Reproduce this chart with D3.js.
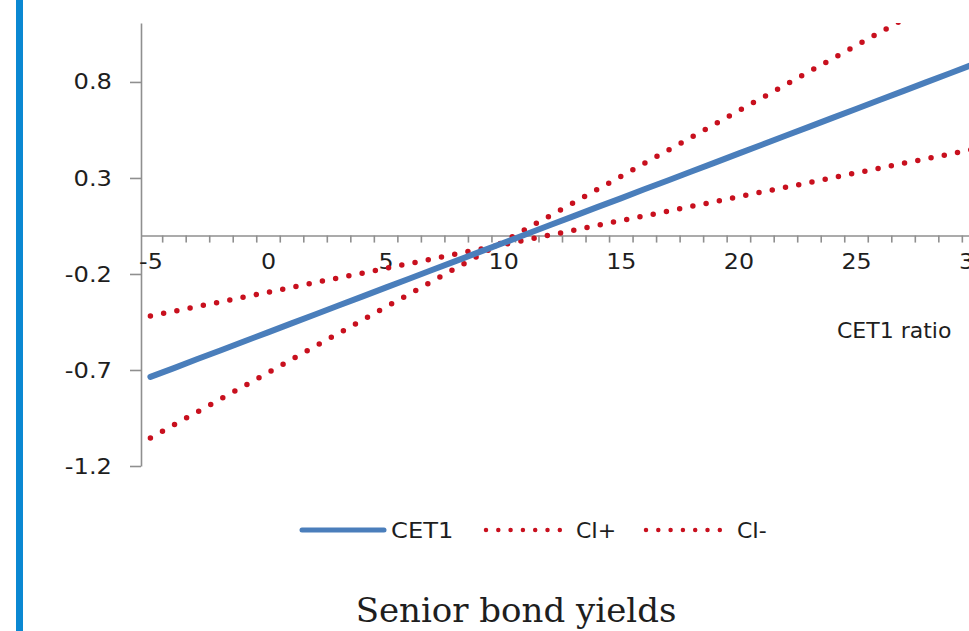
<!DOCTYPE html>
<html>
<head>
<meta charset="utf-8">
<script src="https://cdn.jsdelivr.net/npm/d3@7"></script>
<style>
  html, body { margin: 0; padding: 0; background: #fff; overflow: hidden; }
  svg { display: block; }
  text { font-family: "DejaVu Sans", Verdana, sans-serif; fill: #1e1e1e; }
</style>
</head>
<body>
<svg id="chart" width="969" height="631"></svg>
<script>
// ---- data ----
const categories = [-5,-4,-3,-2,-1,0,1,2,3,4,5,6,7,8,9,10,11,12,13,14,15,16,17,18,19,20,21,22,23,24,25,26,27,28,29,30,31,32];
const cet1 = [-0.736,-0.690,-0.643,-0.597,-0.550,-0.504,-0.457,-0.411,-0.364,-0.318,-0.271,-0.225,-0.178,-0.132,-0.085,-0.039,0.008,0.055,0.101,0.148,0.194,0.241,0.287,0.334,0.380,0.427,0.473,0.520,0.566,0.613,0.659,0.706,0.752,0.799,0.845,0.892,0.938,0.985];
const ciPlus = [-1.054,-0.986,-0.918,-0.850,-0.782,-0.714,-0.645,-0.577,-0.509,-0.441,-0.373,-0.305,-0.237,-0.169,-0.101,-0.033,0.036,0.104,0.172,0.240,0.308,0.376,0.444,0.512,0.580,0.649,0.717,0.785,0.853,0.921,0.989,1.057,1.125,1.193,1.261,1.330,1.398,1.466];
const ciMinus = [-0.419,-0.394,-0.369,-0.345,-0.320,-0.295,-0.270,-0.245,-0.220,-0.196,-0.171,-0.146,-0.121,-0.096,-0.071,-0.047,-0.022,0.003,0.028,0.053,0.078,0.102,0.127,0.152,0.177,0.202,0.227,0.251,0.276,0.301,0.326,0.351,0.376,0.400,0.425,0.450,0.475,0.500];
const yTicks = [-1.2, -0.7, -0.2, 0.3, 0.8];
const xTickLabels = [-5, 0, 5, 10, 15, 20, 25, 30];
const seriesNames = ["CET1", "CI+", "CI-"];
const xAxisTitle = "CET1 ratio";
const chartTitle = "Senior bond yields";

// ---- layout ----
const svg = d3.select("#chart");
const plot = { left: 141, top: 23, bottom: 466 };
const x = d3.scaleLinear().domain([-5.4, 32.6]).range([plot.left, plot.left + 38 * 23.52]);
const y = d3.scaleLinear().domain([-1.2, 1.107]).range([plot.bottom, plot.top]);
const axisColor = "#8f8f8f";
const FS = "22px";
const hy = s => s.replace("\u2212", "-");

function stretch(sel, k) {
  sel.each(function () {
    const w = this.getComputedTextLength();
    d3.select(this).attr("textLength", w * k).attr("lengthAdjust", "spacingAndGlyphs");
  });
}

// left accent bar
svg.append("rect").attr("x", 16).attr("y", 0).attr("width", 7).attr("height", 631).attr("fill", "#0a88d2");

// clip for plot area
svg.append("defs").append("clipPath").attr("id", "plotclip")
  .append("rect").attr("x", plot.left).attr("y", plot.top)
  .attr("width", 969 - plot.left + 60).attr("height", plot.bottom - plot.top);

// y axis
const yAxis = svg.append("g").attr("transform", `translate(${plot.left},0)`)
  .call(d3.axisLeft(y).tickValues(yTicks).tickFormat(d => hy(d3.format(".1f")(d))).tickSizeInner(11).tickSizeOuter(0).tickPadding(18));
yAxis.selectAll("path, line").attr("stroke", axisColor).attr("stroke-width", 1.6);
yAxis.selectAll("text").style("font-size", FS).style("font-family", "DejaVu Sans, Verdana, sans-serif").attr("fill", "#1e1e1e");
stretch(yAxis.selectAll("text"), 1.1);

// x axis (minor ticks between categories)
const y0 = y(0);
const xAxis = svg.append("g").attr("transform", `translate(0,${y0})`)
  .call(d3.axisBottom(x).tickValues(d3.range(-4.5, 33, 1)).tickFormat("").tickSizeInner(7).tickSizeOuter(0));
xAxis.selectAll("path, line").attr("stroke", axisColor).attr("stroke-width", 1.6);

// x labels
const xLab = svg.append("g").attr("transform", `translate(0,${y0})`)
  .call(d3.axisBottom(x).tickValues(xTickLabels).tickFormat(d => hy(String(d))).tickSize(0).tickPadding(33));
xLab.select(".domain").remove();
xLab.selectAll("text").style("font-size", FS).style("font-family", "DejaVu Sans, Verdana, sans-serif").attr("fill", "#1e1e1e").attr("dy", "0");
stretch(xLab.selectAll("text"), 1.08);

// x axis title
svg.append("text").attr("x", 837).attr("y", 338).style("font-size", FS).text(xAxisTitle);

// series
const gLines = svg.append("g").attr("clip-path", "url(#plotclip)");
const line = (vals) => d3.line().x((d, i) => x(categories[i])).y(d => y(d))(vals);

const redColor = "#c8101e";
gLines.append("path").attr("d", line(ciPlus)).attr("fill", "none")
  .attr("stroke", redColor).attr("stroke-width", 5.5).attr("stroke-linecap", "round").attr("stroke-dasharray", "0 13.8");
gLines.append("path").attr("d", line(ciMinus)).attr("fill", "none")
  .attr("stroke", redColor).attr("stroke-width", 5.5).attr("stroke-linecap", "round").attr("stroke-dasharray", "0 13.5");
gLines.append("path").attr("d", line(cet1)).attr("fill", "none")
  .attr("stroke", "#4a7ebb").attr("stroke-width", 6).attr("stroke-linecap", "round").attr("stroke-linejoin", "round");

// legend
const legY = 530;
const leg = svg.append("g");
leg.append("line").attr("x1", 302).attr("x2", 384).attr("y1", legY).attr("y2", legY)
  .attr("stroke", "#4a7ebb").attr("stroke-width", 5).attr("stroke-linecap", "round");
leg.append("text").attr("x", 391).attr("y", legY + 8).style("font-size", FS).text(seriesNames[0]);
[[486, 576, seriesNames[1]], [646, 737, seriesNames[2]]].forEach(([sx, tx, name]) => {
  leg.append("line").attr("x1", sx).attr("x2", sx + 74).attr("y1", legY).attr("y2", legY)
    .attr("stroke", redColor).attr("stroke-width", 4.5).attr("stroke-linecap", "round").attr("stroke-dasharray", "0 12.3");
  leg.append("text").attr("x", tx).attr("y", legY + 8).style("font-size", FS).text(name);
});
stretch(leg.selectAll("text").filter((d, i) => i === 0), 1.1);

// title
svg.append("text").attr("x", 516).attr("y", 622).attr("text-anchor", "middle")
  .style("font-family", "'DejaVu Serif', 'Liberation Serif', serif").style("font-size", "34px").text(chartTitle);
</script>
</body>
</html>
